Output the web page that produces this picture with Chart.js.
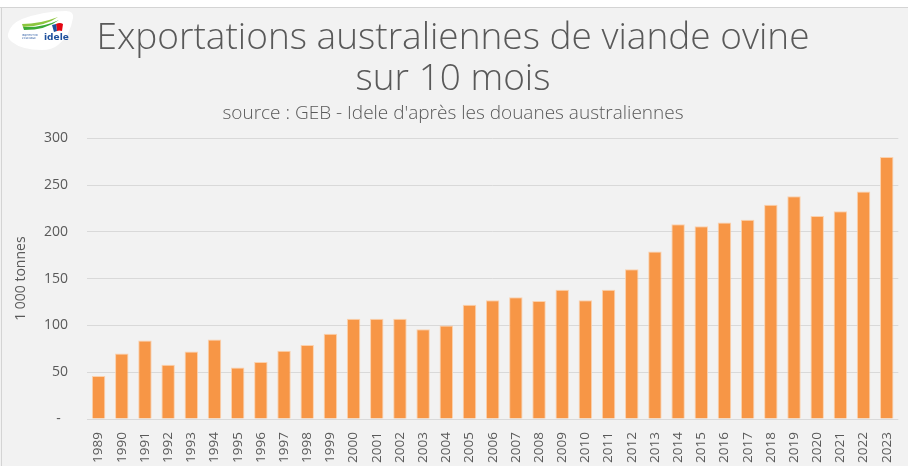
<!DOCTYPE html>
<html lang="fr">
<head>
<meta charset="utf-8">
<title>Exportations australiennes de viande ovine</title>
<script src="https://cdn.jsdelivr.net/npm/chart.js@4.4.1/dist/chart.umd.min.js"></script>
<style>
  html, body { margin: 0; padding: 0; }
  body { width: 908px; height: 466px; overflow: hidden; background: #F2F2F2; position: relative; }
  #topband { position: absolute; left: 0; top: 0; width: 908px; height: 7px; background: #FFFFFF; border-bottom: 1px solid #D4D4D4; }
  #leftline { position: absolute; left: 1px; top: 7px; width: 1px; height: 459px; background: #D4D4D4; }
  #wrap { position: absolute; left: 0; top: 0; width: 908px; height: 466px; }
  #logo { position: absolute; left: 0; top: 0; }
</style>
</head>
<body>
<div id="topband"></div>
<div id="leftline"></div>
<div id="wrap"><canvas id="chart"></canvas></div>
<svg id="logo" width="80" height="56" viewBox="0 0 80 56">
  <path d="M8 34 Q10 24 22 19 Q44 11 66 11 Q74 11 73 18 Q70 36 58 45 Q52 50 42 50 Q22 50 12 42 Q7 38 8 34 Z" fill="#FFFFFF"/>
  <path d="M22 24 Q40 24 58 17 Q46 26 23 27 Z" fill="#8CC63F"/>
  <path d="M23 27 Q42 28 59 20 Q46 30 24 30 Z" fill="#3AAA35"/>
  <path d="M56 24 Q60 22 63 24 L62 31 Q59 30 57 31 Z" fill="#E30613"/>
  <path d="M52 25 L56 24 L57 31 L54 32 Z" fill="#1D4F9C"/>
  <text x="22" y="36" font-family="DejaVu Sans" font-size="2.6" fill="#1D4F9C">INSTITUT DE</text>
  <text x="22" y="39" font-family="DejaVu Sans" font-size="2.6" fill="#1D4F9C">L'ÉLEVAGE</text>
  <text x="44" y="40" font-family="DejaVu Sans" font-weight="bold" font-size="9" fill="#1D4F9C">idele</text>
</svg>
<script>
// Exportations australiennes de viande ovine, cumul sur 10 mois (1 000 tonnes)
const years = ['1989','1990','1991','1992','1993','1994','1995','1996','1997','1998',
  '1999','2000','2001','2002','2003','2004','2005','2006','2007','2008',
  '2009','2010','2011','2012','2013','2014','2015','2016','2017','2018',
  '2019','2020','2021','2022','2023'];
const exportsKt = [46, 70, 84, 58, 72, 85, 55, 61, 73, 79,
  91, 107, 107, 107, 96, 100, 122, 127, 130, 126,
  138, 127, 138, 160, 179, 208, 206, 210, 213, 229,
  238, 217, 222, 243, 280];
const yTicks = [0, 50, 100, 150, 200, 250, 300];

const titleLines = ['Exportations australiennes de viande ovine', 'sur 10 mois'];
const subtitleText = "source : GEB - Idele d'après les douanes australiennes";
const yAxisTitle = '1 000 tonnes';

const grey = '#595959';
const fontFamily = "'Open Sans', Lato, 'DejaVu Sans', sans-serif";

new Chart(document.getElementById('chart'), {
  type: 'bar',
  data: {
    labels: years,
    datasets: [{
      data: exportsKt,
      backgroundColor: '#F79646',
      borderColor: 'rgba(252, 205, 165, 0.9)',
      borderWidth: 1,
      barPercentage: 0.58,
      categoryPercentage: 1.0
    }]
  },
  options: {
    responsive: true,
    maintainAspectRatio: false,
    devicePixelRatio: 1,
    animation: false,
    layout: { padding: { left: 2, right: 4, top: 0, bottom: 0 } },
    plugins: {
      legend: { display: false },
      tooltip: { enabled: false },
      title: {
        display: true,
        text: titleLines,
        color: grey,
        font: { family: fontFamily, size: 37, weight: 300, lineHeight: 1.1 },
        padding: { top: 18, bottom: 3 }
      },
      subtitle: {
        display: true,
        text: subtitleText,
        color: grey,
        font: { family: fontFamily, size: 19, weight: 300, lineHeight: 1.15 },
        padding: { top: 0, bottom: 14 }
      }
    },
    scales: {
      x: {
        grid: { display: false },
        border: { display: false },
        ticks: {
          color: grey,
          font: { family: fontFamily, size: 13.5 },
          minRotation: 90,
          maxRotation: 90,
          autoSkip: false,
          padding: 5
        },
        afterFit: s => { s.height = 47; }
      },
      y: {
        min: 0,
        max: 300,
        afterBuildTicks: s => { s.ticks = yTicks.map(v => ({ value: v })); },
        grid: { color: '#D9D9D9', lineWidth: 1, drawTicks: false },
        border: { display: false },
        ticks: {
          color: grey,
          font: { family: fontFamily, size: 14 },
          padding: 19,
          callback: v => (v === 0 ? '-  ' : String(v))
        },
        title: {
          display: true,
          text: yAxisTitle,
          color: grey,
          font: { family: fontFamily, size: 14 },
          padding: { top: 11, bottom: 0 }
        },
        afterFit: s => { s.width = 85; }
      }
    }
  }
});
</script>
</body>
</html>
